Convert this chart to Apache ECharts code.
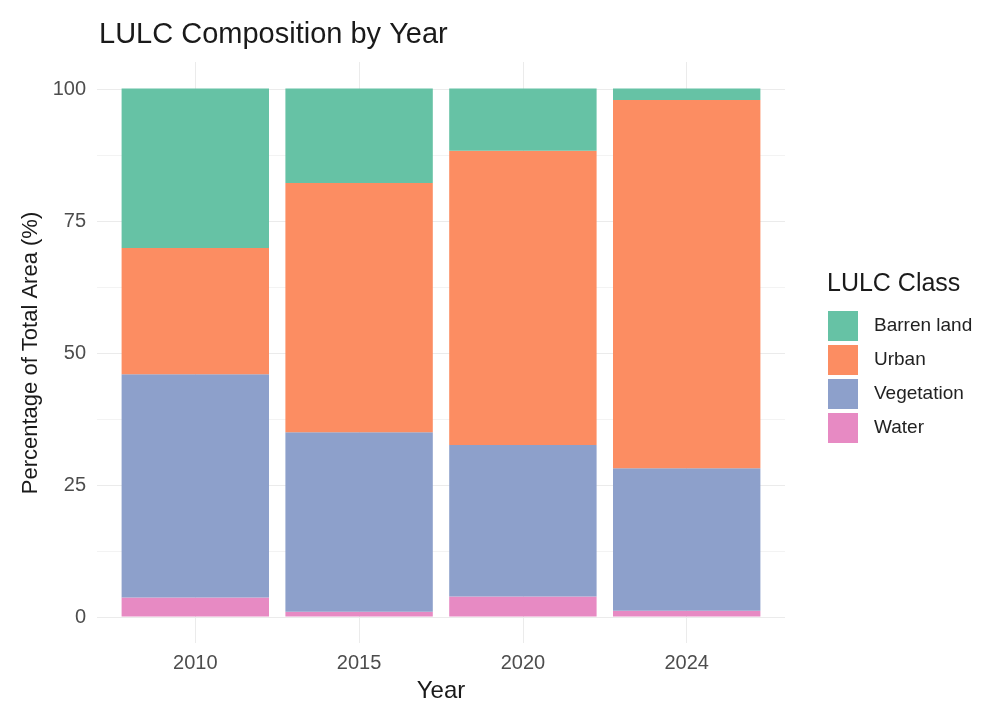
<!DOCTYPE html>
<html>
<head>
<meta charset="utf-8">
<script src="https://cdn.jsdelivr.net/npm/echarts@6/dist/echarts.min.js"></script>
<style>
  html, body { margin: 0; padding: 0; background: #ffffff; }
  #chart { width: 1002px; height: 718px; }
</style>
</head>
<body>
<div id="chart"></div>
<script>
// ---- data ----
const years = ['2010', '2015', '2020', '2024'];
const seriesNames = ['Water', 'Vegetation', 'Urban', 'Barren land']; // bottom to top
const water = [3.6, 0.9, 3.8, 1.1];
const vegetation = [42.3, 34.0, 28.7, 27.0];
const urban = [23.9, 47.2, 55.7, 69.7];
const barren = [30.2, 17.9, 11.8, 2.2];
const legendOrder = ['Barren land', 'Urban', 'Vegetation', 'Water'];
const yTicks = [0, 25, 50, 75, 100];

const colors = {
  'Water': '#E78AC3',
  'Vegetation': '#8DA0CB',
  'Urban': '#FC8D62',
  'Barren land': '#66C2A5'
};
const values = {
  'Water': water,
  'Vegetation': vegetation,
  'Urban': urban,
  'Barren land': barren
};

const FONT = "'Liberation Sans', Arial, sans-serif";
const chart = echarts.init(document.getElementById('chart'), null, { renderer: 'canvas' });

const option = {
  animation: false,
  backgroundColor: '#ffffff',
  textStyle: { fontFamily: FONT },
  title: [
    {
      text: 'LULC Composition by Year',
      left: 94, top: 15,
      textStyle: { fontFamily: FONT, fontSize: 29, fontWeight: 'normal', color: '#1a1a1a' }
    },
    {
      text: 'LULC Class',
      left: 822, top: 267,
      textStyle: { fontFamily: FONT, fontSize: 25, fontWeight: 'normal', color: '#1a1a1a' }
    }
  ],
  legend: {
    data: legendOrder,
    orient: 'vertical',
    left: 823, top: 306,
    itemWidth: 30, itemHeight: 30, itemGap: 4,
    icon: 'rect',
    textStyle: { fontFamily: FONT, fontSize: 19, color: '#222222', padding: [0, 0, 0, 11] }
  },
  grid: [
    // background grid for horizontal gridlines and y labels (0..100 range)
    { left: 97, right: 217, top: 89, bottom: 101, containLabel: false },
    // main grid for bars, spanning the full panel (-5..105), category centers at edges
    { left: 195.3, right: 315.3, top: 62, bottom: 75, containLabel: false }
  ],
  xAxis: [
    { gridIndex: 0, type: 'category', data: years, show: false },
    {
      gridIndex: 1, type: 'category', data: years, boundaryGap: false,
      axisLine: { show: false }, axisTick: { show: false },
      axisLabel: { fontFamily: FONT, fontSize: 20, color: '#4d4d4d', margin: 10 },
      splitLine: { show: true, interval: 0, lineStyle: { color: '#ebebeb', width: 1 } },
      name: 'Year', nameLocation: 'middle', nameGap: 36,
      nameTextStyle: { fontFamily: FONT, fontSize: 24, color: '#1a1a1a' }
    }
  ],
  yAxis: [
    {
      gridIndex: 0, type: 'value', min: yTicks[0], max: yTicks[yTicks.length - 1], interval: 25,
      axisLine: { show: false }, axisTick: { show: false },
      axisLabel: { fontFamily: FONT, fontSize: 20, color: '#4d4d4d', margin: 11 },
      splitLine: { show: true, lineStyle: { color: '#ebebeb', width: 1 } },
      minorTick: { show: false, splitNumber: 2 },
      minorSplitLine: { show: true, lineStyle: { color: '#f3f3f3', width: 1 } },
      name: 'Percentage of Total Area (%)', nameLocation: 'middle', nameGap: 53,
      nameTextStyle: { fontFamily: FONT, fontSize: 22, color: '#1a1a1a' }
    },
    { gridIndex: 1, type: 'value', min: -5, max: 105, show: false }
  ],
  series: seriesNames.map(name => ({
    name: name,
    type: 'bar',
    xAxisIndex: 1, yAxisIndex: 1,
    stack: 'total',
    barWidth: 147.4,
    clip: false,
    itemStyle: { color: colors[name] },
    emphasis: { disabled: true },
    data: values[name]
  }))
};
chart.setOption(option);
</script>
</body>
</html>
